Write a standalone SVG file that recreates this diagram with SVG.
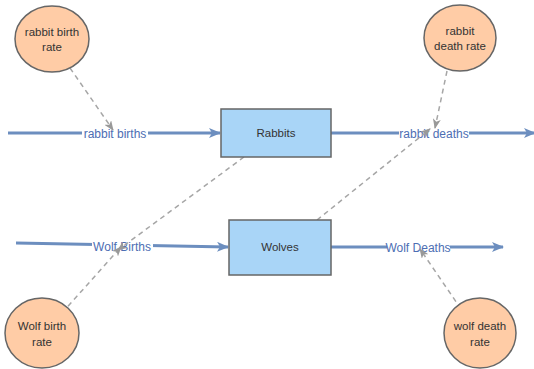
<svg xmlns="http://www.w3.org/2000/svg" width="534" height="369" viewBox="0 0 534 369">
<defs>
<marker id="flowArrow" viewBox="0 0 12 10" refX="11" refY="5" markerWidth="12" markerHeight="10" markerUnits="userSpaceOnUse" orient="auto">
<path d="M0,0 L12,5 L0,10 L3,5 Z" fill="#6c8ebf"/>
</marker>
<marker id="linkArrow" viewBox="0 0 10 8" refX="9" refY="4" markerWidth="10" markerHeight="8" markerUnits="userSpaceOnUse" orient="auto">
<path d="M0,0 L10,4 L0,8 L2.5,4 Z" fill="#999999"/>
</marker>
<style>
.flow{fill:none;stroke:#6c8ebf;stroke-width:3}
.link{fill:none;stroke:#a6a6a6;stroke-width:1.5;stroke-dasharray:5,4}
.conv{fill:#ffcca6;stroke:#666666;stroke-width:1.5}
.stock{fill:#a9d5f7;stroke:#666666;stroke-width:1.5}
.nt{font-family:"Liberation Sans",Arial,sans-serif;font-size:11.5px;fill:#333333;text-anchor:middle}
.fl{font-family:"Liberation Sans",Arial,sans-serif;font-size:12px;fill:#4d6eb3;text-anchor:middle}
.bg{fill:#ffffff}
</style>
</defs>
<rect width="534" height="369" fill="#ffffff"/>
<g id="connectors">
<line class="flow" x1="8" y1="133" x2="220" y2="133" marker-end="url(#flowArrow)"/>
<line class="flow" x1="331" y1="133" x2="535" y2="133" marker-end="url(#flowArrow)"/>
<line class="flow" x1="16" y1="243" x2="228" y2="247" marker-end="url(#flowArrow)"/>
<line class="flow" x1="331" y1="247" x2="503" y2="247" marker-end="url(#flowArrow)"/>
<rect class="bg" x="82" y="127" width="66" height="13"/>
<rect class="bg" x="399" y="127" width="70" height="13"/>
<rect class="bg" x="92" y="240" width="61" height="13"/>
<rect class="bg" x="387" y="241" width="63" height="13"/>
<text class="fl" x="115" y="138">rabbit births</text>
<text class="fl" x="434" y="138">rabbit deaths</text>
<text class="fl" x="122" y="251">Wolf Births</text>
<text class="fl" x="418" y="252">Wolf Deaths</text>
<line class="link" x1="70" y1="68" x2="113" y2="130" marker-end="url(#linkArrow)"/>
<line class="link" x1="447" y1="71" x2="435" y2="128" marker-end="url(#linkArrow)"/>
<line class="link" x1="244" y1="157" x2="118" y2="250" marker-end="url(#linkArrow)"/>
<line class="link" x1="62" y1="313" x2="121" y2="247" marker-end="url(#linkArrow)"/>
<line class="link" x1="317" y1="220" x2="430" y2="129" marker-end="url(#linkArrow)"/>
<line class="link" x1="461" y1="309" x2="420" y2="249" marker-end="url(#linkArrow)"/>
</g>
<g id="rabbit-birth-rate">
<ellipse class="conv" cx="52" cy="39" rx="37" ry="33"/>
<text class="nt" x="52" y="36">rabbit birth</text>
<text class="nt" x="52" y="51">rate</text>
</g>
<g id="rabbit-death-rate">
<ellipse class="conv" cx="460" cy="38" rx="36" ry="33"/>
<text class="nt" x="460" y="35">rabbit</text>
<text class="nt" x="460" y="50">death rate</text>
</g>
<g id="wolf-birth-rate">
<ellipse class="conv" cx="42" cy="333" rx="37" ry="35"/>
<text class="nt" x="42" y="330">Wolf birth</text>
<text class="nt" x="42" y="346">rate</text>
</g>
<g id="wolf-death-rate">
<ellipse class="conv" cx="480" cy="333" rx="36" ry="35"/>
<text class="nt" x="480" y="330">wolf death</text>
<text class="nt" x="480" y="346">rate</text>
</g>
<g id="rabbits">
<rect class="stock" x="221" y="109" width="110" height="48"/>
<text class="nt" x="276" y="137">Rabbits</text>
</g>
<g id="wolves">
<rect class="stock" x="229" y="220" width="102" height="55"/>
<text class="nt" x="280" y="251">Wolves</text>
</g>
</svg>
